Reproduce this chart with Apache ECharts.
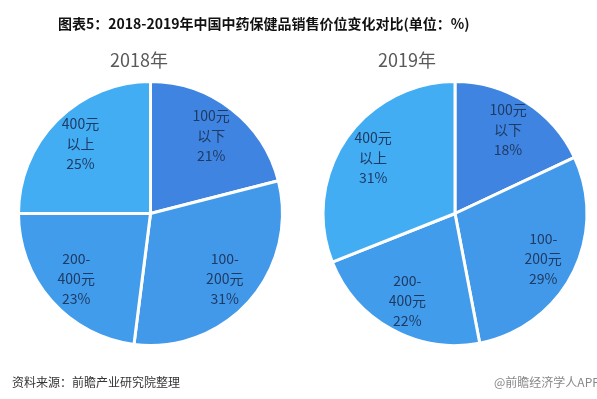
<!DOCTYPE html>
<html><head><meta charset="utf-8">
<script src="https://cdn.jsdelivr.net/npm/echarts@6/dist/echarts.min.js"></script>
<style>html,body{margin:0;padding:0;background:#fff}#c{width:597px;height:399px}</style>
</head><body><div id="c"></div>
<script>
const categories = ['100元\n以下', '100-\n200元', '200-\n400元', '400元\n以上'];
const values2018 = [21, 31, 23, 25];
const values2019 = [18, 29, 22, 31];
const colors = ['#3F84E0', '#4299EA', '#419CEB', '#42ADF3'];
const titleText = '图表5：2018-2019年中国中药保健品销售价位变化对比(单位：%)';
const yearLabels = ['2018年', '2019年'];
const sourceText = '资料来源：前瞻产业研究院整理';

const font = '"Noto Sans CJK SC", "Noto Sans", sans-serif';
function mkData(vals) {
  return categories.map((c, i) => ({ name: c, value: vals[i], itemStyle: { color: colors[i] } }));
}
function pies(vals, cx) {
  return [
    {
      type: 'pie', center: [cx, 213.5], radius: [0, 132], startAngle: 90, clockwise: true,
      silent: true, label: { show: false }, labelLine: { show: false },
      itemStyle: { borderColor: '#fff', borderWidth: 3 },
      data: mkData(vals)
    },
    {
      type: 'pie', center: [cx, 213.5], radius: [0, 192], startAngle: 90, clockwise: true,
      silent: true, z: 5,
      itemStyle: { color: 'rgba(0,0,0,0)', borderWidth: 0 },
      label: {
        show: true, position: 'inside', color: '#1F3A63', fontSize: 14, lineHeight: 20,
        fontFamily: font, formatter: p => p.name + '\n' + p.value + '%'
      },
      labelLine: { show: false },
      data: categories.map((c, i) => ({ name: c, value: vals[i] }))
    }
  ];
}
const chart = echarts.init(document.getElementById('c'));
chart.setOption({
  animation: false,
  title: [
    { text: titleText, left: 53, top: 12, textStyle: { fontSize: 14, fontWeight: 'bold', color: '#111', fontFamily: font } },
    { text: yearLabels[0], left: 134, top: 46, textAlign: 'center', textStyle: { fontSize: 18, fontWeight: 'normal', color: '#595959', fontFamily: font } },
    { text: yearLabels[1], left: 402, top: 46, textAlign: 'center', textStyle: { fontSize: 18, fontWeight: 'normal', color: '#595959', fontFamily: font } },
    { text: sourceText, left: 7, top: 371, textStyle: { fontSize: 12, fontWeight: 'normal', color: '#333', fontFamily: font } },
    { text: '@前瞻经济学人APP', left: 489, top: 371, textStyle: { fontSize: 12, fontWeight: 'normal', color: '#888', fontFamily: font } }
  ],
  series: [...pies(values2018, 150.5), ...pies(values2019, 455)]
});
</script></body></html>
